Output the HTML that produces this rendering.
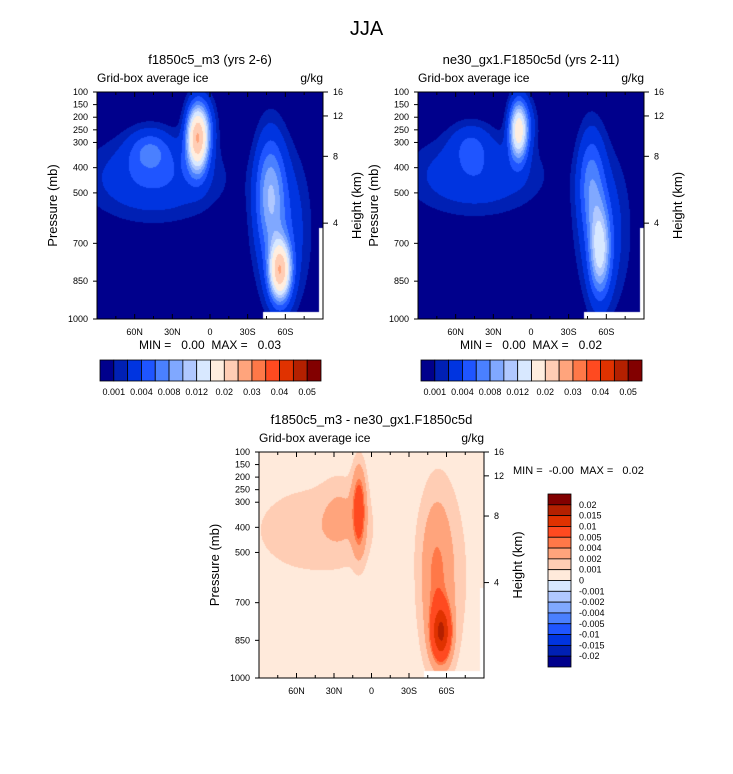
<!DOCTYPE html>
<html><head><meta charset="utf-8">
<style>
body{margin:0;background:#fff;}
#root{position:relative;width:733px;height:774px;font-family:"Liberation Sans",sans-serif;color:#000;overflow:hidden}
.t{position:absolute;white-space:nowrap}
canvas{position:absolute}
svg{position:absolute;left:0;top:0}
svg text{white-space:pre}
</style></head>
<body>
<div id="root">
<div class="t" style="left:0;width:733px;text-align:center;top:18px;font-size:20px">JJA</div>
<canvas id="c0" width="226" height="227" style="left:97px;top:92px"></canvas>
<canvas id="c1" width="226" height="227" style="left:418px;top:92px"></canvas>
<canvas id="c2" width="225" height="226" style="left:259px;top:452px"></canvas>
<svg id="ov" width="733" height="774"></svg>
</div>
<script>
// ---- data ----
var absLevels=[0.001,0.002,0.004,0.006,0.008,0.01,0.012,0.015,0.02,0.025,0.03,0.035,0.04,0.045,0.05];
var absColors=["#00008c","#0020b4","#0034e0","#1f55ff","#4a80ff","#80a8ff","#b0c8ff","#d8e8ff","#ffeedf","#ffcdb4","#ffa47c","#ff7848","#ff4a20","#e03200","#b42000","#820000"];
var absLabels=["0.001","0.004","0.008","0.012","0.02","0.03","0.04","0.05"];
var diffLevels=[-0.02,-0.015,-0.01,-0.005,-0.004,-0.002,-0.001,0,0.001,0.002,0.004,0.005,0.01,0.015,0.02];
var diffColors=["#00008c","#0020b4","#0034e0","#1f55ff","#4a80ff","#80a8ff","#b0c8ff","#d8e8ff","#ffeadb","#ffcdb4","#ffa47c","#ff7848","#ff4a20","#e03200","#b42000","#820000"];
var diffLabels=["0.02","0.015","0.01","0.005","0.004","0.002","0.001","0","-0.001","-0.002","-0.004","-0.005","-0.01","-0.015","-0.02"];
// blobs: [lat(N+), pressure, amplitude, lat width, p width]
var blobsA=[[10,280,0.024,8,120],[45,440,0.0042,48,150],[48,330,0.0045,16,80],[2,230,0.0025,8,110],[-56,810,0.022,8,110],[-48,500,0.008,11,220],[-58,650,0.0038,20,300]];
var blobsB=[[10,250,0.017,7,110],[45,430,0.0038,48,140],[48,300,0.003,16,80],[2,220,0.002,8,100],[-55,730,0.011,8,170],[-48,460,0.006,10,200],[-58,650,0.0032,20,300]];
var blobsD=[[10,330,0.0065,5,150],[45,410,0.0013,50,180],[25,340,0.0012,14,130],[-56,820,0.014,7,100],[-52,600,0.003,11,280],[-58,600,0.0013,20,380]];
var diffBase=0.0004;
var latTicks=[60,30,0,-30,-60];
var latLabels=["60N","30N","0","30S","60S"];
var pTicks=[100,150,200,250,300,400,500,700,850,1000];
var hTicks=[16,12,8,4];
var hTickP=[100,195,355,620];

// ---- helpers ----
function field(blobs,base,lat,p){var v=base;for(var i=0;i<blobs.length;i++){var b=blobs[i];var dx=(lat-b[0])/b[3],dy=(p-b[1])/b[4];v+=b[2]*Math.exp(-dx*dx-dy*dy);}return v;}
function lev(v,levels){var k=0;while(k<levels.length&&v>=levels[k])k++;return k;}
function hex(c){return [parseInt(c.substr(1,2),16),parseInt(c.substr(3,2),16),parseInt(c.substr(5,2),16)];}
function draw(id,blobs,base,levels,colors){
 var cv=document.getElementById(id),ctx=cv.getContext('2d'),W=cv.width,H=cv.height;
 var img=ctx.createImageData(W,H),rgb=colors.map(hex);
 for(var y=0;y<H;y++){var p=100+900*y/(H-1);for(var x=0;x<W;x++){var lat=90-180*x/(W-1);
  var c=rgb[lev(field(blobs,base,lat,p),levels)];
  if((lat<-42&&p>975)||(lat<-87&&p>640)){c=[255,255,255];}
  var o=(y*W+x)*4;img.data[o]=c[0];img.data[o+1]=c[1];img.data[o+2]=c[2];img.data[o+3]=255;}}
 ctx.putImageData(img,0,0);
}
draw('c0',blobsA,0,absLevels,absColors);
draw('c1',blobsB,0,absLevels,absColors);
draw('c2',blobsD,diffBase,diffLevels,diffColors);

var NS="http://www.w3.org/2000/svg",ov=document.getElementById('ov');
function el(tag,at,txt){var e=document.createElementNS(NS,tag);for(var k in at)e.setAttribute(k,at[k]);if(txt!==undefined)e.textContent=txt;ov.appendChild(e);return e;}
function T(x,y,s,anchor,txt,size,rot){var at={x:x,y:y,'font-size':size,'text-anchor':anchor,'font-family':'Liberation Sans, sans-serif'};if(rot)at.transform='rotate(-90 '+x+' '+y+')';var e=el('text',at,txt);return e;}

function axes(x0,y0,w,h,title,minmax,name){
 var xs=function(lat){return x0+(90-lat)/180*w;};
 var ys=function(p){return y0+(p-100)/900*h;};
 var r=el('rect',{x:x0,y:y0,width:w,height:h,fill:'none',stroke:'#000','stroke-width':1});
 
 T(x0+w/2,y0-28,name+'-title','middle',title,13);
 T(x0,y0-10,name+'-subtitle','start','Grid-box average ice',12);
 T(x0+w,y0-10,name+'-units','end','g/kg',12);
 for(var lat=75;lat>=-75;lat-=15){var X=xs(lat),L=(lat%30===0)?5:3;
  el('line',{x1:X,y1:y0+h,x2:X,y2:y0+h-L,stroke:'#000'});el('line',{x1:X,y1:y0,x2:X,y2:y0+L,stroke:'#000'});}
 latTicks.forEach(function(lat,i){T(xs(lat),y0+h+16,name+'-xtick','middle',latLabels[i],9);});
 pTicks.forEach(function(p){el('line',{x1:x0,y1:ys(p),x2:x0-4,y2:ys(p),stroke:'#000'});T(x0-9,ys(p)+3,name+'-ytick','end',String(p),9);});
 hTicks.forEach(function(hk,i){var Y=ys(hTickP[i]);el('line',{x1:x0+w,y1:Y,x2:x0+w+5,y2:Y,stroke:'#000'});T(x0+w+10,Y+3,name+'-height-tick','start',String(hk),9);});
 T(x0-40,y0+h/2,name+'-y-axis-title','middle','Pressure (mb)',13,true);
 T(x0+w+38,y0+h/2,name+'-right-axis-title','middle','Height (km)',13,true);
 if(minmax)T(x0+w/2,y0+h+30,name+'-minmax','middle',minmax,12);
}
axes(97,92,226,227,'f1850c5_m3 (yrs 2-6)','MIN =   0.00  MAX =   0.03','panel-1');
axes(418,92,226,227,'ne30_gx1.F1850c5d (yrs 2-11)','MIN =   0.00  MAX =   0.02','panel-2');
axes(259,452,225,226,'f1850c5_m3 - ne30_gx1.F1850c5d',null,'diff-panel');
T(513,474,'diff-minmax','start','MIN =  -0.00  MAX =   0.02',11);

function hbar(x0,y0,w,h,name){
 var bw=w/absColors.length;
 absColors.forEach(function(c,i){var r=el('rect',{x:x0+i*bw,y:y0,width:bw,height:h,fill:c,stroke:'#000','stroke-width':0.8});});
 absLabels.forEach(function(s,i){T(x0+(2*i+1)*bw,y0+h+14,name+'-label','middle',s,9);});
}
hbar(100,360,221,21,'colorbar-1');
hbar(421,360,221,21,'colorbar-2');
(function(){var x0=548,y0=494,w=23,h=173,n=diffColors.length,bh=h/n;
 for(var i=0;i<n;i++){var r=el('rect',{x:x0,y:y0+i*bh,width:w,height:bh,fill:diffColors[n-1-i],stroke:'#000','stroke-width':0.8});
  }
 diffLabels.forEach(function(s,i){T(x0+w+8,y0+(i+1)*bh+3,'diff-colorbar-label','start',s,9);});
})();
</script>
</body></html>
